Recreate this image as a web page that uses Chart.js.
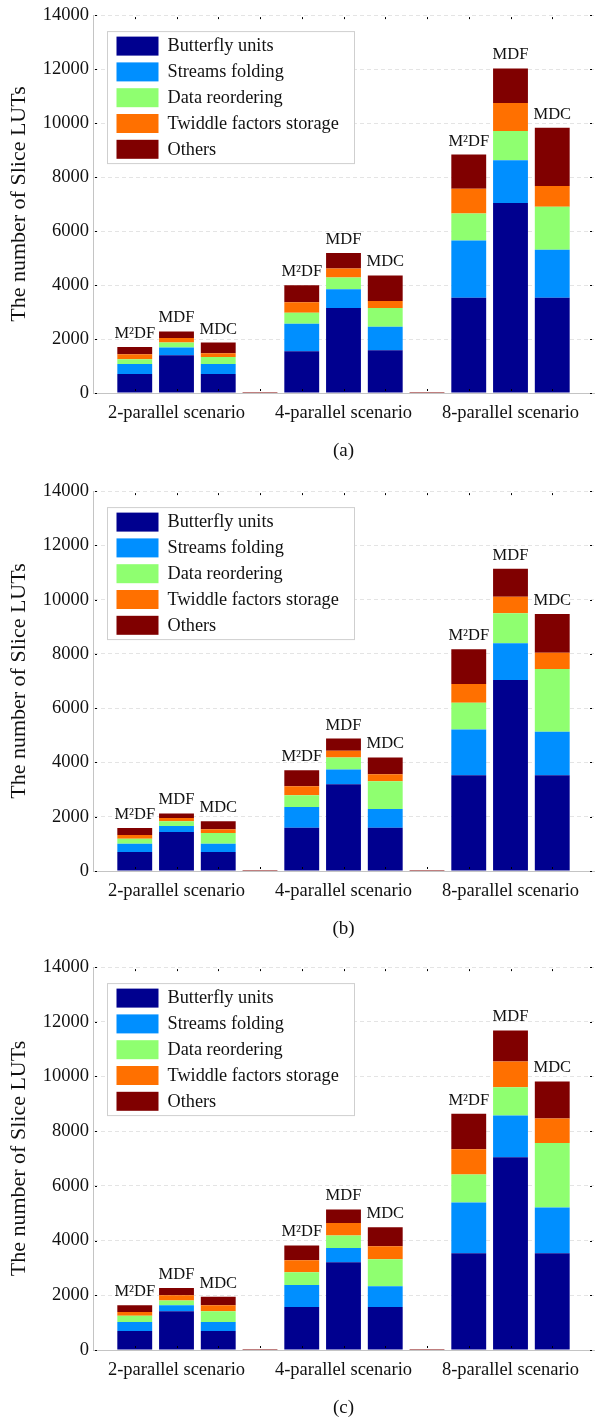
<!DOCTYPE html>
<html>
<head>
<meta charset="utf-8">
<script src="https://cdn.jsdelivr.net/npm/chart.js@4.4.1/dist/chart.umd.min.js"></script>
<style>
  html, body { margin: 0; padding: 0; background: #fff; }
  canvas { display: block; }
</style>
</head>
<body>
<canvas id="chartA" width="603" height="476"></canvas>
<canvas id="chartB" width="603" height="476"></canvas>
<canvas id="chartC" width="603" height="466"></canvas>
<script>
// labels
const barNames = ["M\u00b2DF", "MDF", "MDC"]
const scenarios = ["2-parallel scenario", "4-parallel scenario", "8-parallel scenario"]
const seriesNames = ["Butterfly units", "Streams folding", "Data reordering", "Twiddle factors storage", "Others"]
const seriesColors = ["#00008F", "#008FFF", "#8FFF70", "#FF7000", "#800000"]
const yTicks = [0, 2000, 4000, 6000, 8000, 10000, 12000, 14000]
const gapMark = 35 // thin mark drawn in the empty slot between groups

// (a) order per series: 2-par M2DF, MDF, MDC, 4-par ..., 8-par ...
const butterflyA = [700, 1400, 700, 1550, 3150, 1580, 3530, 7040, 3530]
const streamsA = [370, 290, 370, 1020, 690, 875, 2120, 1580, 1780]
const reorderA = [180, 185, 265, 400, 440, 695, 1000, 1090, 1590]
const twiddleA = [185, 160, 135, 390, 330, 255, 915, 1030, 770]
const othersA = [265, 245, 400, 630, 580, 950, 1270, 1285, 2160]

// (b)
const butterflyB = [700, 1440, 700, 1590, 3200, 1590, 3530, 7040, 3530]
const streamsB = [300, 220, 300, 765, 545, 695, 1680, 1350, 1600]
const reorderB = [185, 170, 400, 440, 440, 1025, 990, 1110, 2310]
const twiddleB = [145, 120, 135, 330, 245, 255, 695, 610, 600]
const othersB = [255, 170, 295, 585, 450, 620, 1280, 1030, 1430]

// (c)
const butterflyC = [695, 1420, 695, 1570, 3210, 1570, 3535, 7045, 3535]
const streamsC = [325, 220, 325, 810, 520, 765, 1860, 1525, 1675]
const reorderC = [230, 170, 400, 460, 460, 985, 1020, 1040, 2355]
const twiddleC = [135, 195, 220, 440, 450, 475, 925, 935, 900]
const othersC = [255, 265, 305, 545, 500, 690, 1295, 1140, 1355]

const FONT = "'Liberation Serif', 'Times New Roman', serif"

// 13 slots: empty edge, 3 bars, gap, 3 bars, gap, 3 bars, empty edge
function toSlots(vals, gapValue) {
  const g = gapValue === undefined ? null : gapValue
  return [null, vals[0], vals[1], vals[2], g, vals[3], vals[4], vals[5], g, vals[6], vals[7], vals[8], null]
}
const xLabels = ["", "", scenarios[0], "", "", "", scenarios[1], "", "", "", scenarios[2], "", ""]
const slotNames = [null, ...barNames, null, ...barNames, null, ...barNames, null]

const decor = {
  id: "decor",
  afterDatasetsDraw(chart) {
    const c = chart.ctx
    const area = chart.chartArea
    const xs = chart.scales.x
    const ys = chart.scales.y
    // bar labels
    const last = chart.getDatasetMeta(chart.data.datasets.length - 1)
    c.save()
    c.fillStyle = "#111"
    c.font = "16.5px " + FONT
    c.textAlign = "center"
    c.textBaseline = "alphabetic"
    slotNames.forEach((name, i) => {
      if (!name) return
      const el = last.data[i]
      c.fillText(name, el.x, el.y - 9)
    })
    // small tick dots
    c.fillStyle = "#000"
    for (let i = 1; i < 12; i++) {
      const px = Math.round(xs.getPixelForValue(i))
      c.fillRect(px, area.top + 2, 1, 2)
      c.fillRect(px, area.bottom - 4, 1, 2)
    }
    yTicks.forEach((v) => {
      const py = Math.round(ys.getPixelForValue(v))
      c.fillRect(area.left + 2, py, 2, 1)
      c.fillRect(area.right - 4, py, 2, 1)
    })
    c.restore()
  },
  afterDraw(chart) {
    const c = chart.ctx
    const area = chart.chartArea
    const opts = chart.options.plugins.decor
    // legend box inside plot
    const bx = area.left + 14.5, by = area.top + 16.5, bw = 247, bh = 132
    c.save()
    c.fillStyle = "#fff"
    c.fillRect(bx, by, bw, bh)
    c.strokeStyle = "#cfcfcf"
    c.lineWidth = 1
    c.strokeRect(bx, by, bw, bh)
    c.font = "18.3px " + FONT
    c.textBaseline = "middle"
    c.textAlign = "left"
    seriesNames.forEach((name, i) => {
      const sy = by + 5 + i * 25.8
      c.fillStyle = seriesColors[i]
      c.fillRect(bx + 9, sy, 42, 19)
      c.fillStyle = "#111"
      c.fillText(name, bx + 60, sy + 10)
    })
    // caption
    c.font = "19px " + FONT
    c.textAlign = "center"
    c.fillStyle = "#111"
    c.fillText(opts.caption, (area.left + area.right) / 2, area.bottom + 58)
    c.restore()
  },
}

const panels = [
  { id: "chartA", caption: "(a)", top: 11, bottom: 393, series: [butterflyA, streamsA, reorderA, twiddleA, othersA] },
  { id: "chartB", caption: "(b)", top: 11, bottom: 395, series: [butterflyB, streamsB, reorderB, twiddleB, othersB] },
  { id: "chartC", caption: "(c)", top: 11, bottom: 398, series: [butterflyC, streamsC, reorderC, twiddleC, othersC] },
]

panels.forEach((p) => {
  const canvas = document.getElementById(p.id)
  const h = canvas.height
  new Chart(canvas, {
    type: "bar",
    data: {
      labels: xLabels,
      datasets: p.series.map((vals, i) => ({
        label: seriesNames[i],
        data: toSlots(vals, i === 4 ? gapMark : null),
        backgroundColor: seriesColors[i],
        borderWidth: 0,
        categoryPercentage: 1,
        barPercentage: 0.835,
      })),
    },
    options: {
      responsive: false,
      animation: false,
      devicePixelRatio: 1,
      layout: { padding: { top: p.top, right: 0, left: 0, bottom: 0 } },
      plugins: {
        legend: { display: false },
        tooltip: { enabled: false },
        decor: { caption: p.caption },
      },
      scales: {
        x: {
          stacked: true,
          offset: false,
          grid: { display: false, drawTicks: false },
          border: { display: true, color: "#c4c4c4" },
          ticks: {
            autoSkip: false,
            maxRotation: 0,
            minRotation: 0,
            padding: 9,
            color: "#111",
            font: { family: FONT, size: 18.5 },
          },
          afterFit: (scale) => {
            scale.height = h - p.bottom
          },
        },
        y: {
          stacked: true,
          min: 0,
          max: 14000,
          afterBuildTicks: (scale) => {
            scale.ticks = yTicks.map((v) => ({ value: v }))
          },
          grid: {
            color: "#e4e4e4",
            drawTicks: false,
          },
          border: { display: true, color: "#c4c4c4", dash: [4, 3] },
          ticks: {
            padding: 4,
            color: "#111",
            font: { family: FONT, size: 18.5 },
            callback: (value) => String(value),
          },
          title: {
            display: true,
            text: "The number of Slice LUTs",
            color: "#111",
            font: { family: FONT, size: 22 },
            padding: { top: 6, bottom: 0 },
          },
          afterFit: (scale) => {
            scale.width = 93
          },
        },
      },
    },
    plugins: [decor],
  })
})
</script>
</body>
</html>
